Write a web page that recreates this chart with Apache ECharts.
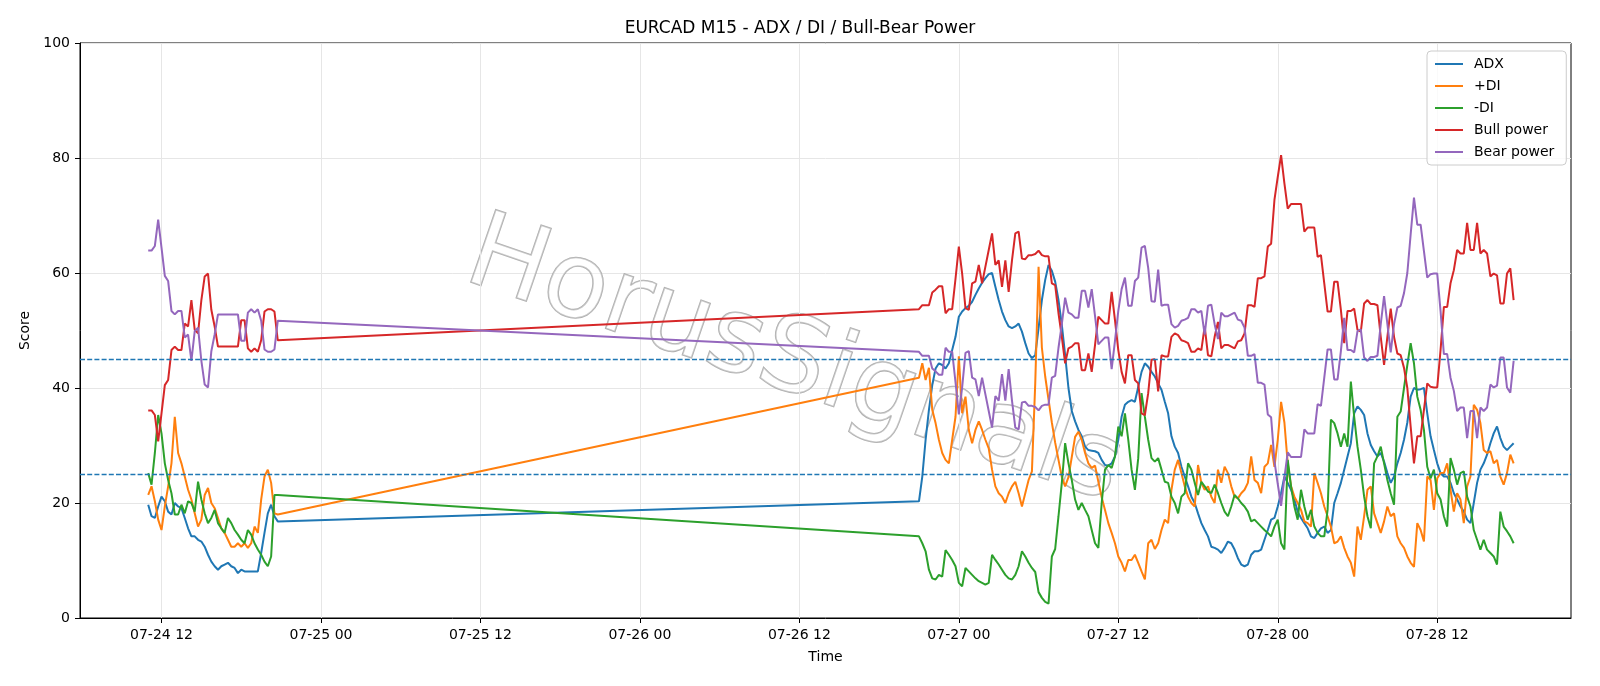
<!DOCTYPE html>
<html>
<head>
<meta charset="utf-8">
<title>EURCAD M15 - ADX / DI / Bull-Bear Power</title>
<script src="https://cdn.jsdelivr.net/npm/echarts@6/dist/echarts.min.js"></script>
<style>
  html, body { margin: 0; padding: 0; background: #fff; }
  #chart { width: 1600px; height: 686px; }
</style>
</head>
<body>
<div id="chart"></div>
<script>
// M15 bars: Friday session, then from Sunday evening open
const seg1Start = Date.UTC(2026, 6, 24, 11, 0);
const seg2Start = Date.UTC(2026, 6, 26, 21, 0);
const barMs = 15 * 60 * 1000;

// --- first session (40 bars) ---
const adx1 = [19.7, 17.7, 17.4, 19.4, 21.1, 20.3, 18.5, 18.0, 20.0, 19.4,
  19.1, 17.4, 15.6, 14.2, 14.2, 13.6, 13.3, 12.4, 11.0, 9.8,
  9.0, 8.4, 9.0, 9.3, 9.6, 9.0, 8.7, 7.8, 8.4, 8.1,
  8.1, 8.1, 8.1, 8.1, 11.3, 14.8, 18.2, 19.7, 17.7, 16.8];
const plusDi1 = [21.4, 22.9, 20.3, 17.1, 15.3, 19.4, 22.9, 26.9, 35.0, 28.7,
  26.9, 24.6, 22.3, 20.6, 18.2, 15.9, 17.1, 21.4, 22.6, 20.0,
  19.1, 17.4, 15.6, 14.8, 13.6, 12.4, 12.4, 13.0, 12.4, 13.0,
  12.2, 13.0, 15.9, 14.8, 20.6, 24.6, 25.8, 23.5, 18.2, 18.0];
const minusDi1 = [25.2, 23.2, 28.7, 35.3, 32.1, 26.9, 24.0, 21.7, 18.0, 18.0,
  19.7, 18.2, 20.3, 20.0, 18.5, 23.7, 20.6, 18.2, 16.5, 17.4,
  18.8, 16.5, 15.6, 14.8, 17.4, 16.5, 15.3, 14.5, 13.6, 13.0,
  15.3, 14.5, 13.0, 11.9, 11.0, 9.8, 9.0, 10.7, 21.4, 21.4];
const bull1 = [36.1, 36.1, 35.3, 30.7, 35.6, 40.5, 41.4, 46.6, 47.2, 46.6,
  46.6, 51.2, 50.7, 55.3, 50.1, 49.5, 55.3, 59.4, 59.9, 53.6,
  50.7, 47.2, 47.2, 47.2, 47.2, 47.2, 47.2, 47.2, 51.8, 51.8,
  46.9, 46.3, 46.9, 46.3, 48.3, 53.3, 53.7, 53.7, 53.3, 48.3];
const bear1 = [63.9, 63.9, 64.7, 69.3, 64.4, 59.5, 58.6, 53.4, 52.8, 53.4,
  53.4, 48.8, 49.3, 44.7, 49.9, 50.5, 44.7, 40.6, 40.1, 46.4,
  49.3, 52.8, 52.8, 52.8, 52.8, 52.8, 52.8, 52.8, 48.2, 48.2,
  53.1, 53.7, 53.1, 53.7, 51.7, 46.7, 46.3, 46.3, 46.7, 51.7];

// --- second session (180 bars) ---
const adx2 = [20.3, 24.6, 31.0, 36.2, 40.5, 43.4, 44.3, 44.0, 43.4, 44.3,
  46.6, 48.9, 52.4, 53.3, 53.9, 54.3, 55.0, 56.2, 57.3, 58.3,
  59.1, 59.8, 60.0, 57.6, 55.3, 53.3, 51.8, 50.7, 50.4, 50.7,
  51.2, 49.8, 47.8, 46.0, 45.2, 45.7, 50.4, 55.3, 58.8, 61.4,
  60.4, 58.5, 55.3, 51.0, 45.7, 40.0, 36.0, 34.2, 32.7, 31.6,
  29.8, 29.2, 29.1, 29.0, 28.7, 27.5, 26.6, 26.5, 26.9, 28.1,
  31.0, 35.0, 37.1, 37.6, 37.9, 37.6, 40.2, 42.8, 44.3, 43.7,
  42.8, 42.0, 40.8, 39.7, 37.6, 35.6, 31.6, 29.8, 28.7, 26.3,
  24.6, 22.9, 21.1, 20.0, 18.2, 16.5, 15.3, 14.2, 12.4, 12.2,
  11.9, 11.3, 12.2, 13.3, 13.0, 11.9, 10.4, 9.3, 9.0, 9.3,
  11.0, 11.6, 11.6, 11.9, 13.6, 15.3, 17.1, 17.4, 19.4, 21.7,
  24.6, 23.5, 22.3, 20.6, 18.5, 17.4, 16.5, 15.6, 14.2, 13.9,
  14.8, 15.6, 15.9, 14.8, 15.3, 20.0, 21.7, 23.5, 25.8, 28.1,
  30.4, 35.6, 36.8, 36.2, 35.3, 32.1, 30.1, 29.0, 28.1, 28.7,
  27.2, 25.2, 23.5, 24.6, 26.9, 28.7, 31.0, 34.0, 38.5, 40.0,
  39.7, 39.8, 40.0, 35.6, 31.6, 29.2, 26.9, 25.2, 24.6, 24.6,
  23.5, 21.7, 20.6, 19.4, 18.5, 17.1, 16.5, 20.0, 23.5, 25.8,
  26.9, 28.4, 30.4, 32.1, 33.3, 31.3, 29.8, 29.2, 29.8, 30.4];
const plusDi2 = [41.8, 44.3, 41.4, 43.5, 36.2, 33.9, 31.0, 28.7, 27.5, 26.9,
  31.0, 35.0, 45.5, 35.6, 38.5, 32.7, 30.4, 32.7, 34.2, 32.7,
  31.0, 29.5, 25.8, 22.9, 21.7, 21.1, 20.0, 21.7, 22.9, 23.7,
  21.7, 19.4, 21.7, 24.0, 25.5, 40.8, 61.1, 47.0, 42.0, 38.0,
  34.0, 30.5, 27.5, 24.5, 22.9, 24.5, 28.0, 31.5, 32.4, 31.0,
  28.7, 26.9, 26.1, 26.5, 23.7, 21.0, 18.8, 16.5, 14.8, 13.0,
  10.7, 9.6, 8.1, 10.1, 10.1, 11.0, 9.6, 8.1, 6.7, 13.0,
  13.6, 12.0, 13.0, 15.3, 17.1, 16.5, 22.3, 25.8, 27.5, 25.2,
  22.9, 21.1, 20.0, 19.4, 26.6, 23.5, 22.3, 22.9, 21.1, 20.0,
  25.8, 23.5, 26.3, 25.2, 22.9, 21.1, 20.8, 21.7, 22.3, 23.5,
  28.1, 24.0, 23.5, 21.7, 26.3, 26.9, 30.1, 26.3, 31.0, 37.6,
  34.0, 26.9, 22.9, 21.1, 20.0, 18.8, 16.8, 16.5, 15.9, 25.2,
  23.5, 21.7, 19.4, 17.7, 15.9, 13.0, 13.3, 14.2, 12.2, 10.7,
  9.6, 7.2, 15.9, 13.6, 17.7, 22.3, 22.9, 18.2, 16.5, 14.8,
  16.8, 19.4, 17.7, 18.2, 14.2, 13.0, 12.2, 10.7, 9.6, 8.9,
  16.5, 15.3, 13.3, 24.6, 24.0, 18.8, 24.3, 25.2, 25.2, 26.9,
  22.3, 18.5, 21.7, 20.6, 16.5, 22.9, 24.6, 37.1, 36.2, 33.9,
  29.2, 28.7, 29.0, 26.9, 27.5, 24.6, 23.2, 25.2, 28.4, 26.9];
const minusDi2 = [14.2, 13.0, 11.6, 8.4, 6.9, 6.7, 7.5, 7.2, 11.8, 11.0,
  10.1, 9.0, 6.1, 5.5, 8.7, 8.1, 7.5, 6.9, 6.4, 6.1,
  5.8, 6.1, 11.0, 10.1, 9.3, 8.4, 7.5, 6.9, 6.7, 7.5,
  9.0, 11.6, 10.7, 9.6, 8.7, 8.0, 4.5, 3.5, 2.8, 2.5,
  10.7, 12.0, 17.7, 23.5, 30.4, 26.9, 24.0, 20.6, 18.8, 20.0,
  18.8, 17.7, 15.3, 13.0, 12.2, 20.0, 25.8, 26.6, 26.1, 28.1,
  33.3, 31.6, 35.6, 31.0, 25.8, 22.3, 27.8, 39.1, 35.0, 31.0,
  27.8, 27.2, 27.8, 25.8, 23.7, 23.5, 21.1, 20.0, 18.2, 21.1,
  21.7, 26.9, 25.8, 23.5, 21.4, 23.7, 22.9, 22.0, 21.7, 23.2,
  21.7, 20.0, 18.5, 17.7, 19.4, 21.4, 20.8, 20.0, 19.4, 18.5,
  16.8, 17.1, 16.5, 15.9, 15.3, 14.8, 14.2, 15.9, 17.1, 13.0,
  11.9, 27.5, 22.9, 19.4, 17.1, 22.3, 19.4, 17.1, 18.8, 15.9,
  14.8, 14.2, 14.2, 18.8, 34.5, 33.9, 32.1, 29.8, 32.1, 29.8,
  41.1, 35.0, 29.8, 25.8, 21.1, 17.7, 15.6, 26.9, 28.1, 29.8,
  26.9, 24.0, 21.7, 19.7, 35.0, 35.9, 40.0, 44.0, 47.8, 44.3,
  38.5, 36.2, 32.7, 26.3, 24.3, 25.8, 21.7, 20.6, 17.7, 15.9,
  27.8, 25.8, 23.2, 25.2, 25.5, 21.1, 19.4, 15.3, 13.6, 11.9,
  13.6, 11.9, 11.3, 10.7, 9.3, 18.5, 15.9, 15.1, 14.2, 13.0];
const bull2 = [53.7, 54.4, 54.4, 54.4, 56.6, 57.1, 57.7, 57.7, 53.0, 53.7,
  53.7, 59.0, 64.6, 59.9, 53.9, 53.6, 58.2, 58.5, 61.4, 58.2,
  61.1, 64.0, 66.9, 61.4, 62.2, 57.6, 62.2, 56.7, 62.2, 66.9,
  67.2, 62.5, 62.4, 63.1, 63.1, 63.3, 63.9, 63.1, 62.9, 62.9,
  58.2, 57.9, 53.0, 48.9, 44.3, 46.9, 47.2, 47.8, 47.8, 43.1,
  43.1, 46.0, 42.8, 47.5, 52.4, 51.8, 51.2, 51.2, 56.7, 51.8,
  46.6, 42.8, 40.8, 45.7, 45.7, 41.4, 40.8, 35.6, 35.3, 39.1,
  44.9, 45.0, 39.4, 45.7, 45.5, 45.5, 48.9, 49.5, 49.2, 48.3,
  48.1, 47.8, 46.3, 46.3, 46.9, 46.6, 50.7, 45.7, 45.5, 48.9,
  51.5, 46.9, 47.5, 47.5, 47.2, 46.9, 48.1, 48.3, 49.5, 54.4,
  54.4, 54.1, 59.1, 59.1, 59.4, 64.6, 65.1, 72.7, 76.7, 80.5,
  75.6, 71.2, 72.0, 72.0, 72.0, 72.0, 67.2, 67.9, 67.9, 67.9,
  62.8, 63.1, 58.2, 53.3, 53.3, 58.5, 58.5, 53.6, 47.8, 53.4,
  53.4, 53.8, 50.1, 49.8, 54.7, 55.3, 54.6, 54.6, 54.4, 48.9,
  44.0, 48.9, 53.8, 48.9, 46.0, 45.7, 43.5, 40.0, 33.3, 26.9,
  31.6, 31.6, 36.2, 40.8, 40.2, 40.1, 40.1, 46.6, 54.1, 54.1,
  58.2, 60.5, 64.0, 63.4, 63.4, 68.7, 64.0, 64.0, 68.7, 63.4,
  64.0, 63.4, 59.4, 59.9, 59.6, 54.7, 54.7, 59.9, 60.8, 55.3];
const bear2 = [46.3, 45.6, 45.6, 45.6, 43.4, 42.9, 42.3, 42.3, 47.0, 46.3,
  46.3, 41.0, 35.4, 40.1, 46.1, 46.4, 41.8, 41.5, 38.6, 41.8,
  38.9, 36.0, 33.1, 38.6, 37.8, 42.4, 37.8, 43.3, 37.8, 33.1,
  32.8, 37.5, 37.6, 36.9, 36.9, 36.7, 36.1, 36.9, 37.1, 37.1,
  41.8, 42.1, 47.0, 51.1, 55.7, 53.1, 52.8, 52.2, 52.2, 56.9,
  56.9, 54.0, 57.2, 52.5, 47.6, 48.2, 48.8, 48.8, 43.3, 48.2,
  53.4, 57.2, 59.2, 54.3, 54.3, 58.6, 59.2, 64.4, 64.7, 60.9,
  55.1, 55.0, 60.6, 54.3, 54.5, 54.5, 51.1, 50.5, 50.8, 51.7,
  51.9, 52.2, 53.7, 53.7, 53.1, 53.4, 49.3, 54.3, 54.5, 51.1,
  48.5, 53.1, 52.5, 52.5, 52.8, 53.1, 51.9, 51.7, 50.5, 45.6,
  45.6, 45.9, 40.9, 40.9, 40.6, 35.4, 34.9, 27.3, 23.3, 19.5,
  24.4, 28.8, 28.0, 28.0, 28.0, 28.0, 32.8, 32.1, 32.1, 32.1,
  37.2, 36.9, 41.8, 46.7, 46.7, 41.5, 41.5, 46.4, 52.2, 46.6,
  46.6, 46.2, 49.9, 50.2, 45.3, 44.7, 45.4, 45.4, 45.6, 51.1,
  56.0, 51.1, 46.2, 51.1, 54.0, 54.3, 56.5, 60.0, 66.7, 73.1,
  68.4, 68.4, 63.8, 59.2, 59.8, 59.9, 59.9, 53.4, 45.9, 45.9,
  41.8, 39.5, 36.0, 36.6, 36.6, 31.3, 36.0, 36.0, 31.3, 36.6,
  36.0, 36.6, 40.6, 40.1, 40.4, 45.3, 45.3, 40.1, 39.2, 44.7];

// x tick positions (every 12h) and reference levels
const tickTimes = ['2026-07-24T12:00:00Z', '2026-07-25T00:00:00Z', '2026-07-25T12:00:00Z',
  '2026-07-26T00:00:00Z', '2026-07-26T12:00:00Z', '2026-07-27T00:00:00Z',
  '2026-07-27T12:00:00Z', '2026-07-28T00:00:00Z', '2026-07-28T12:00:00Z'];
const refLevels = [25, 45];

const ticks = tickTimes.map(t => Date.parse(t));

function barTimes(start, n) {
  const out = [];
  for (let i = 0; i < n; i++) out.push(start + i * barMs);
  return out;
}
const xs = barTimes(seg1Start, adx1.length).concat(barTimes(seg2Start, adx2.length));

function toPoints(a, b) {
  return a.concat(b).map((v, i) => [xs[i], v]);
}

// visible time window of the axes
const xMin = Date.UTC(2026, 6, 24, 5, 52);
const xMax = Date.UTC(2026, 6, 28, 22, 4);

const pad = n => (n < 10 ? '0' : '') + n;
const fmtTick = v => {
  const d = new Date(v);
  return pad(d.getUTCMonth() + 1) + '-' + pad(d.getUTCDate()) + ' ' + pad(d.getUTCHours());
};

const font = 'DejaVu Sans';
const myChart = echarts.init(document.getElementById('chart'));

const lineSeries = (name, color, a, b) => ({
  name: name,
  type: 'line',
  data: toPoints(a, b),
  symbol: 'none',
  color: color,
  lineStyle: { width: 2, color: color },
  emphasis: { disabled: true },
  z: 3
});

const series = [
  lineSeries('ADX', '#1f77b4', adx1, adx2),
  lineSeries('+DI', '#ff7f0e', plusDi1, plusDi2),
  lineSeries('-DI', '#2ca02c', minusDi1, minusDi2),
  lineSeries('Bull power', '#d62728', bull1, bull2),
  lineSeries('Bear power', '#9467bd', bear1, bear2)
];

// vertical grid lines at the tick positions
series[0].markLine = {
  silent: true,
  symbol: 'none',
  z: 1,
  animation: false,
  label: { show: false },
  lineStyle: { color: '#e6e6e6', width: 1, type: 'solid' },
  data: ticks.map(t => ({ xAxis: t }))
};
// dashed reference levels
series[4].markLine = {
  silent: true,
  symbol: 'none',
  animation: false,
  label: { show: false },
  lineStyle: { color: '#1f77b4', width: 1.4, type: [5, 2.2] },
  data: refLevels.map(v => ({ yAxis: v }))
};

const options = {
  animation: false,
  backgroundColor: '#fff',
  textStyle: { fontFamily: font },
  title: {
    text: 'EURCAD M15 - ADX / DI / Bull-Bear Power',
    left: 'center',
    top: 15,
    textStyle: { fontFamily: font, fontSize: 17, fontWeight: 'normal', color: '#000' }
  },
  legend: {
    orient: 'vertical',
    left: 1427,
    top: 51,
    padding: [6, 12, 6, 8],
    itemGap: 8,
    itemWidth: 28,
    itemHeight: 2,
    icon: 'rect',
    borderColor: '#cccccc',
    borderWidth: 1,
    borderRadius: 4,
    backgroundColor: 'rgba(255,255,255,0.8)',
    textStyle: { fontFamily: font, fontSize: 14, lineHeight: 14, color: '#000', padding: [0, 0, 0, 6] },
    data: ['ADX', '+DI', '-DI', 'Bull power', 'Bear power']
  },
  grid: {
    left: 80,
    right: 29,
    top: 43,
    bottom: 68,
    show: true,
    borderColor: '#000',
    borderWidth: 1,
    containLabel: false
  },
  xAxis: {
    type: 'value',
    min: xMin,
    max: xMax,
    name: 'Time',
    nameLocation: 'middle',
    nameGap: 32,
    nameTextStyle: { fontFamily: font, fontSize: 14, color: '#000' },
    axisLine: { show: true, onZero: false, lineStyle: { color: '#000', width: 1 } },
    axisTick: { show: true, length: 5, customValues: ticks, lineStyle: { color: '#000' } },
    axisLabel: {
      customValues: ticks,
      formatter: fmtTick,
      fontFamily: font,
      fontSize: 14,
      color: '#000',
      margin: 10
    },
    splitLine: { show: false }
  },
  yAxis: {
    type: 'value',
    min: 0,
    max: 100,
    interval: 20,
    name: 'Score',
    nameLocation: 'middle',
    nameGap: 47,
    nameRotate: 90,
    nameTextStyle: { fontFamily: font, fontSize: 14, color: '#000' },
    axisLine: { show: true, lineStyle: { color: '#000', width: 1 } },
    axisTick: { show: true, length: 5, lineStyle: { color: '#000' } },
    axisLabel: { fontFamily: font, fontSize: 14, color: '#000', margin: 10 },
    splitLine: { show: true, lineStyle: { color: '#e6e6e6', width: 1 } }
  },
  graphic: [{
    type: 'text',
    x: 794,
    y: 364,
    rotation: -0.33,
    z: 1,
    silent: true,
    style: {
      text: 'HorusSignals',
      fontFamily: font,
      fontSize: 105,
      align: 'center',
      verticalAlign: 'middle',
      fill: 'rgba(255,255,255,0.35)',
      stroke: 'rgba(160,160,160,0.85)',
      lineWidth: 1.6,
      shadowColor: 'rgba(0,0,0,0.25)',
      shadowBlur: 3,
      shadowOffsetX: 3,
      shadowOffsetY: 3
    }
  }],
  series: series
};

myChart.setOption(options);
</script>
</body>
</html>
